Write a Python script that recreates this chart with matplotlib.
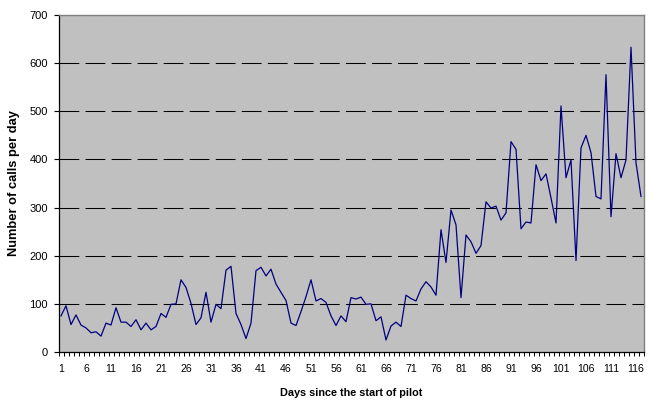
import matplotlib
matplotlib.use("Agg")
import matplotlib.pyplot as plt
import numpy as np

days = list(range(1, 118))
calls = [75, 96, 57, 77, 56, 50, 40, 42, 33, 60,
         56, 92, 62, 62, 53, 67, 46, 60, 46, 53,
         80, 72, 99, 100, 150, 134, 101, 57, 71, 124,
         62, 99, 90, 170, 178, 80, 57, 28, 60, 169,
         176, 158, 172, 141, 124, 107, 60, 55, 84, 115,
         150, 106, 111, 103, 75, 55, 75, 63, 113, 110,
         114, 99, 100, 65, 73, 25, 54, 62, 53, 118,
         111, 106, 131, 146, 135, 118, 254, 186, 295, 264,
         113, 243, 229, 205, 221, 312, 299, 303, 274, 289,
         437, 421, 256, 270, 268, 389, 356, 370, 320, 268,
         511, 362, 399, 190, 424, 450, 414, 323, 318, 576,
         281, 412, 362, 399, 633, 393, 323]
xtick_labels = list(range(1, 117, 5))
yticks = list(range(0, 701, 100))

plt.rcParams['font.family'] = ['Liberation Sans', 'DejaVu Sans']

fig = plt.figure(figsize=(6.52, 4.0), dpi=100)
ax = fig.add_axes([58.5/652, 1-352/400, (643.5-58.5)/652, (352-15)/400])
ax.set_facecolor('#C0C0C0')

lw = 0.75
for y in yticks[1:]:
    ax.axhline(y, color='black', lw=lw, linestyle=(0, (19, 6)), zorder=1)

ax.plot(days, calls, color='#000080', lw=0.9, zorder=3)

ax.set_xlim(0.5, len(days) + 0.5)
ax.set_ylim(0, 700)
ax.set_yticks(yticks)
ax.set_yticklabels([str(v) for v in yticks], fontsize=8)
ax.set_xticks(xtick_labels)
ax.set_xticklabels([str(v) for v in xtick_labels], fontsize=7.6)
ax.tick_params(axis='x', which='major', length=0, pad=8.5)
ax.set_xticks(np.arange(0.5, len(days) + 1, 1.0), minor=True)
ax.tick_params(axis='x', which='minor', length=3, width=0.7, direction='out')
ax.tick_params(axis='y', which='major', length=3.5, width=0.8, direction='out', pad=4)

for s in ['left', 'bottom']:
    ax.spines[s].set_color('black')
    ax.spines[s].set_linewidth(0.9)
for s in ['top', 'right']:
    ax.spines[s].set_color('#808080')
    ax.spines[s].set_linewidth(1.0)

ax.set_xlabel('Days since the start of pilot', fontsize=7.8, fontweight='bold', labelpad=10)
ax.set_ylabel('Number of calls per day', fontsize=9.3, fontweight='bold', labelpad=7)

fig.savefig('out.png', dpi=100, facecolor='white')
